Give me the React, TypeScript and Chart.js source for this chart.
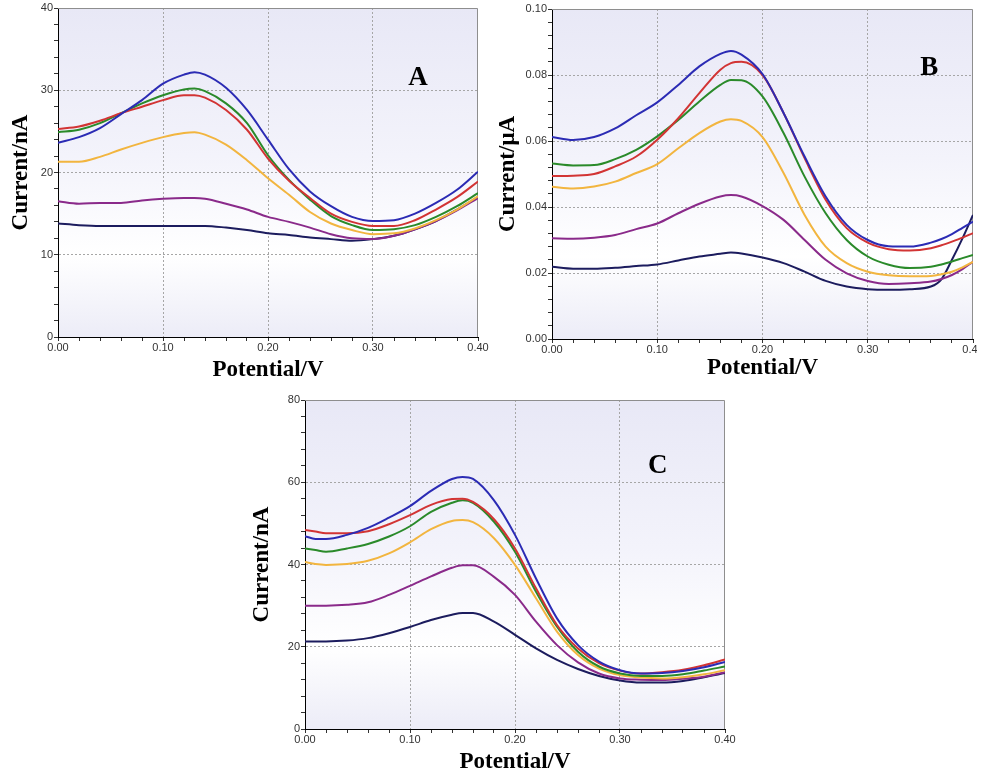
import React, { useEffect, useRef } from 'react';
import { Chart, registerables } from 'chart.js';

Chart.register(...registerables);

// ---------------- DATA ----------------
// Panel A (Current / nA)
const potentialA = [0, 0.02, 0.04, 0.06, 0.08, 0.10, 0.12, 0.13, 0.14, 0.16, 0.18, 0.20, 0.22, 0.24, 0.26, 0.28, 0.30, 0.32, 0.34, 0.36, 0.38, 0.40];
const blueA = [23.6, 24.3, 25.4, 27.1, 28.8, 30.8, 31.9, 32.2, 31.9, 30.3, 27.6, 24.0, 20.4, 17.7, 15.9, 14.6, 14.1, 14.2, 15.0, 16.3, 17.9, 20.1];
const redA = [25.3, 25.6, 26.3, 27.2, 28.0, 28.8, 29.4, 29.4, 29.1, 27.6, 25.2, 21.7, 19.0, 16.9, 15.0, 14.0, 13.5, 13.5, 14.2, 15.5, 17.0, 18.9];
const greenA = [24.9, 25.2, 26.0, 27.2, 28.4, 29.4, 30.1, 30.2, 29.9, 28.4, 26.0, 22.1, 19.1, 16.7, 14.7, 13.6, 13.0, 13.1, 13.6, 14.6, 15.9, 17.5];
const orangeA = [21.3, 21.3, 21.9, 22.8, 23.6, 24.3, 24.8, 24.9, 24.6, 23.4, 21.5, 19.3, 17.3, 15.2, 13.8, 13.0, 12.5, 12.6, 13.2, 14.2, 15.5, 17.1];
const purpleA = [16.5, 16.2, 16.3, 16.3, 16.6, 16.8, 16.9, 16.9, 16.8, 16.2, 15.5, 14.6, 14.0, 13.3, 12.5, 12.0, 11.9, 12.3, 13.1, 14.1, 15.4, 16.9];
const navyA = [13.8, 13.6, 13.5, 13.5, 13.5, 13.5, 13.5, 13.5, 13.5, 13.3, 13.0, 12.6, 12.4, 12.1, 11.9, 11.7, 11.9, 12.3, 13.1, 14.1, 15.5, 17.0];

// Panel B (Current / μA)
const potentialB = [0, 0.02, 0.04, 0.06, 0.08, 0.10, 0.12, 0.14, 0.16, 0.17, 0.18, 0.20, 0.22, 0.24, 0.26, 0.28, 0.30, 0.32, 0.34, 0.36, 0.37, 0.38, 0.39, 0.40];
const blueB = [0.0612, 0.0603, 0.0612, 0.0638, 0.0678, 0.0717, 0.0770, 0.0826, 0.0864, 0.0873, 0.0862, 0.0803, 0.0685, 0.0553, 0.0432, 0.0346, 0.0300, 0.0281, 0.0280, 0.0292, 0.0303, 0.0318, 0.0337, 0.0356];
const redB = [0.0494, 0.0495, 0.0500, 0.0523, 0.0553, 0.0604, 0.0669, 0.0745, 0.0816, 0.0836, 0.0840, 0.0800, 0.0685, 0.0548, 0.0422, 0.0336, 0.0292, 0.0272, 0.0268, 0.0275, 0.0284, 0.0295, 0.0307, 0.0321];
const greenB = [0.0532, 0.0526, 0.0527, 0.0545, 0.0573, 0.0614, 0.0664, 0.0720, 0.0770, 0.0785, 0.0784, 0.0735, 0.0624, 0.0492, 0.0381, 0.0300, 0.0250, 0.0225, 0.0215, 0.0219, 0.0226, 0.0235, 0.0245, 0.0255];
const orangeB = [0.0461, 0.0456, 0.0462, 0.0477, 0.0503, 0.0530, 0.0578, 0.0624, 0.0659, 0.0666, 0.0661, 0.0612, 0.0503, 0.0376, 0.0280, 0.0230, 0.0204, 0.0193, 0.0190, 0.0191, 0.0196, 0.0204, 0.0217, 0.0234];
const purpleB = [0.0305, 0.0304, 0.0307, 0.0315, 0.0333, 0.0350, 0.0381, 0.0410, 0.0432, 0.0436, 0.0432, 0.0403, 0.0361, 0.0300, 0.0240, 0.0199, 0.0176, 0.0167, 0.0169, 0.0174, 0.0182, 0.0194, 0.0212, 0.0234];
const navyB = [0.0219, 0.0213, 0.0213, 0.0216, 0.0221, 0.0226, 0.0238, 0.0250, 0.0258, 0.0262, 0.0259, 0.0247, 0.0230, 0.0204, 0.0176, 0.0159, 0.0151, 0.0149, 0.0151, 0.0159, 0.0181, 0.0240, 0.0305, 0.0376];

// Panel C (Current / nA)
const potentialC = [0, 0.01, 0.02, 0.04, 0.06, 0.08, 0.10, 0.12, 0.14, 0.15, 0.16, 0.18, 0.20, 0.22, 0.24, 0.26, 0.28, 0.30, 0.32, 0.34, 0.36, 0.38, 0.40];
const blueC = [46.9, 46.2, 46.2, 47.2, 48.9, 51.4, 54.2, 57.9, 60.8, 61.3, 60.8, 55.6, 47.2, 36.6, 26.9, 20.4, 16.4, 14.3, 13.5, 13.6, 14.1, 15.0, 16.3];
const redC = [48.4, 48.0, 47.6, 47.6, 48.1, 49.8, 52.0, 54.5, 55.9, 56.0, 55.2, 51.0, 43.9, 34.2, 25.3, 19.6, 16.0, 14.2, 13.5, 13.8, 14.4, 15.5, 16.9];
const greenC = [43.9, 43.5, 43.1, 43.9, 45.0, 46.8, 49.3, 52.8, 55.0, 55.6, 55.0, 50.4, 43.1, 33.4, 24.9, 18.8, 15.2, 13.5, 12.9, 12.9, 13.3, 14.2, 15.2];
const orangeC = [40.6, 40.1, 39.9, 40.1, 40.9, 42.7, 45.4, 48.6, 50.6, 50.8, 50.3, 46.4, 39.9, 31.8, 23.7, 18.0, 14.7, 13.1, 12.5, 12.3, 12.6, 13.3, 14.3];
const purpleC = [30.0, 30.0, 30.0, 30.2, 30.8, 32.6, 34.8, 37.1, 39.2, 39.8, 39.8, 37.0, 32.6, 26.1, 20.4, 16.2, 13.5, 12.3, 12.0, 11.9, 12.2, 12.7, 13.8];
const navyC = [21.3, 21.3, 21.3, 21.5, 22.1, 23.3, 24.8, 26.5, 27.8, 28.2, 28.2, 26.1, 22.9, 19.6, 16.8, 14.6, 12.9, 11.8, 11.3, 11.3, 11.7, 12.6, 13.6];

const xTitle = 'Potential/V';
const yTitleA = 'Current/nA';
const yTitleB = 'Current/μA';
const yTitleC = 'Current/nA';

// ---------------- STYLE ----------------
const COLORS = {
  blue: '#2b2bb4',
  red: '#d23434',
  green: '#2a8a2a',
  orange: '#f2b53f',
  purple: '#8a2a8a',
  navy: '#1c1c5e',
};

const TICK_FONT = { family: '"Liberation Sans", Arial, sans-serif', size: 11 };
const TITLE_FONT = { family: '"Liberation Serif", "Times New Roman", serif', size: 23, weight: 'bold' as const };

const isMajor = (v: number, major: number) => Math.abs(v / major - Math.round(v / major)) < 1e-6;

const bgPlugin = {
  id: 'plotBg',
  beforeDraw(chart: any) {
    const { ctx, chartArea: a } = chart;
    if (!a) return;
    const g = ctx.createLinearGradient(0, a.top, 0, a.bottom);
    g.addColorStop(0, '#e8e8f6');
    g.addColorStop(0.45, '#f3f3fb');
    g.addColorStop(0.75, '#ffffff');
    g.addColorStop(1, '#ececf7');
    ctx.save();
    ctx.fillStyle = g;
    ctx.fillRect(a.left, a.top, a.right - a.left, a.bottom - a.top);
    ctx.restore();
  },
  beforeDatasetsDraw(chart: any) {
    const { ctx, chartArea: a } = chart;
    ctx.save();
    ctx.strokeStyle = '#8e8e8e';
    ctx.lineWidth = 1;
    ctx.beginPath();
    ctx.moveTo(a.left, a.top + 0.5);
    ctx.lineTo(a.right - 0.5, a.top + 0.5);
    ctx.lineTo(a.right - 0.5, a.bottom);
    ctx.stroke();
    ctx.restore();
  },
};

const labelPlugin = {
  id: 'panelLabel',
  afterDraw(chart: any, _args: any, opts: any) {
    if (!opts || !opts.text) return;
    const { ctx, chartArea: a } = chart;
    ctx.save();
    ctx.fillStyle = '#000';
    ctx.font = 'bold 27px "Liberation Serif", "Times New Roman", serif';
    ctx.textAlign = 'center';
    ctx.textBaseline = 'alphabetic';
    ctx.fillText(opts.text, a.left + opts.fx * (a.right - a.left), a.top + opts.fy * (a.bottom - a.top));
    ctx.restore();
  },
};

type PanelCfg = {
  left: number; top: number; width: number; height: number; clipWidth?: number;
  padTop: number; padRight: number; yAxisW: number; xAxisH: number;
  yTitlePad: number; xTitlePad: number;
  potential: number[]; series: { values: number[]; color: string }[];
  yMax: number; yStep: number; yMajor: number; yDecimals: number; yTitle: string;
  label: string; fx: number; fy: number;
};

function Panel({ cfg }: { cfg: PanelCfg }) {
  const ref = useRef<HTMLCanvasElement>(null);
  useEffect(() => {
    const c = cfg;
    const chart = new Chart(ref.current as HTMLCanvasElement, {
      type: 'line',
      data: {
        datasets: c.series.map((s) => ({
          data: c.potential.map((x, i) => ({ x, y: s.values[i] })),
          borderColor: s.color,
          backgroundColor: s.color,
          borderWidth: 2,
          pointRadius: 0,
          cubicInterpolationMode: 'monotone' as const,
          fill: false,
        })),
      },
      options: {
        responsive: false,
        animation: false,
        devicePixelRatio: 1,
        events: [],
        layout: { padding: { left: 0, top: c.padTop, right: c.padRight, bottom: 0 } },
        plugins: {
          legend: { display: false },
          tooltip: { enabled: false },
          panelLabel: { text: c.label, fx: c.fx, fy: c.fy },
        } as any,
        scales: {
          x: {
            type: 'linear',
            min: 0,
            max: 0.4,
            afterFit: (s: any) => { s.height = c.xAxisH; },
            ticks: {
              stepSize: 0.02,
              autoSkip: false,
              maxRotation: 0,
              minRotation: 0,
              padding: 0,
              color: '#333',
              font: TICK_FONT,
              callback: (v: any) => (isMajor(Number(v), 0.1) ? Number(v).toFixed(2) : ''),
            },
            grid: {
              color: (ctx: any) => {
                const v = ctx.tick ? ctx.tick.value : 0;
                return isMajor(v, 0.1) && v > 0.001 && v < 0.399 ? '#a6a6a6' : 'rgba(0,0,0,0)';
              },
              tickColor: '#333',
              tickLength: 4,
              lineWidth: 1,
            },
            border: { color: '#000', width: 1, dash: [2, 2] },
            title: {
              display: true,
              text: xTitle,
              color: '#000',
              font: TITLE_FONT,
              padding: { top: 0, bottom: c.xTitlePad },
            },
          },
          y: {
            type: 'linear',
            min: 0,
            max: c.yMax,
            afterFit: (s: any) => { s.width = c.yAxisW; },
            ticks: {
              stepSize: c.yStep,
              autoSkip: false,
              padding: 1,
              color: '#333',
              font: TICK_FONT,
              callback: (v: any) => (isMajor(Number(v), c.yMajor) ? Number(v).toFixed(c.yDecimals) : ''),
            },
            grid: {
              color: (ctx: any) => {
                const v = ctx.tick ? ctx.tick.value : 0;
                return isMajor(v, c.yMajor) && v > c.yMax * 0.001 && v < c.yMax * 0.999 ? '#a6a6a6' : 'rgba(0,0,0,0)';
              },
              tickColor: '#333',
              tickLength: 4,
              lineWidth: 1,
            },
            border: { color: '#000', width: 1, dash: [2, 2] },
            title: {
              display: true,
              text: c.yTitle,
              color: '#000',
              font: TITLE_FONT,
              padding: { top: c.yTitlePad, bottom: 0 },
            },
          },
        },
      } as any,
      plugins: [bgPlugin, labelPlugin],
    });
    return () => chart.destroy();
  }, []);
  return (
    <div
      style={{
        position: 'absolute',
        left: cfg.left,
        top: cfg.top,
        width: cfg.clipWidth ?? cfg.width,
        height: cfg.height,
        overflow: 'hidden',
      }}
    >
      <canvas ref={ref} width={cfg.width} height={cfg.height} style={{ width: cfg.width, height: cfg.height, display: 'block' }} />
    </div>
  );
}

const mk = (vals: number[][]) => {
  const cols = [COLORS.blue, COLORS.red, COLORS.green, COLORS.orange, COLORS.purple, COLORS.navy];
  return vals.map((v, i) => ({ values: v, color: cols[i] }));
};

const panelA: PanelCfg = {
  left: 0, top: 0, width: 490, height: 385,
  padTop: 8, padRight: 12, yAxisW: 58, xAxisH: 48, yTitlePad: 7, xTitlePad: 1,
  potential: potentialA,
  series: mk([blueA, redA, greenA, orangeA, purpleA, navyA]),
  yMax: 40, yStep: 2, yMajor: 10, yDecimals: 0, yTitle: yTitleA,
  label: 'A', fx: 0.857, fy: 0.233,
};

const panelB: PanelCfg = {
  left: 490, top: 0, width: 505, height: 385, clipWidth: 487,
  padTop: 9, padRight: 22, yAxisW: 62, xAxisH: 46, yTitlePad: 4, xTitlePad: 3,
  potential: potentialB,
  series: mk([blueB, redB, greenB, orangeB, purpleB, navyB]),
  yMax: 0.1, yStep: 0.004, yMajor: 0.02, yDecimals: 2, yTitle: yTitleB,
  label: 'B', fx: 0.896, fy: 0.199,
};

const panelC: PanelCfg = {
  left: 240, top: 385, width: 500, height: 396,
  padTop: 15, padRight: 15, yAxisW: 65, xAxisH: 52, yTitlePad: 8, xTitlePad: 5,
  potential: potentialC,
  series: mk([blueC, redC, greenC, orangeC, purpleC, navyC]),
  yMax: 80, yStep: 4, yMajor: 20, yDecimals: 0, yTitle: yTitleC,
  label: 'C', fx: 0.84, fy: 0.222,
};

export default function App() {
  return (
    <div style={{ position: 'absolute', left: 0, top: 0, width: 995, height: 781, background: '#fff', overflow: 'hidden' }}>
      <Panel cfg={panelA} />
      <Panel cfg={panelB} />
      <Panel cfg={panelC} />
    </div>
  );
}
